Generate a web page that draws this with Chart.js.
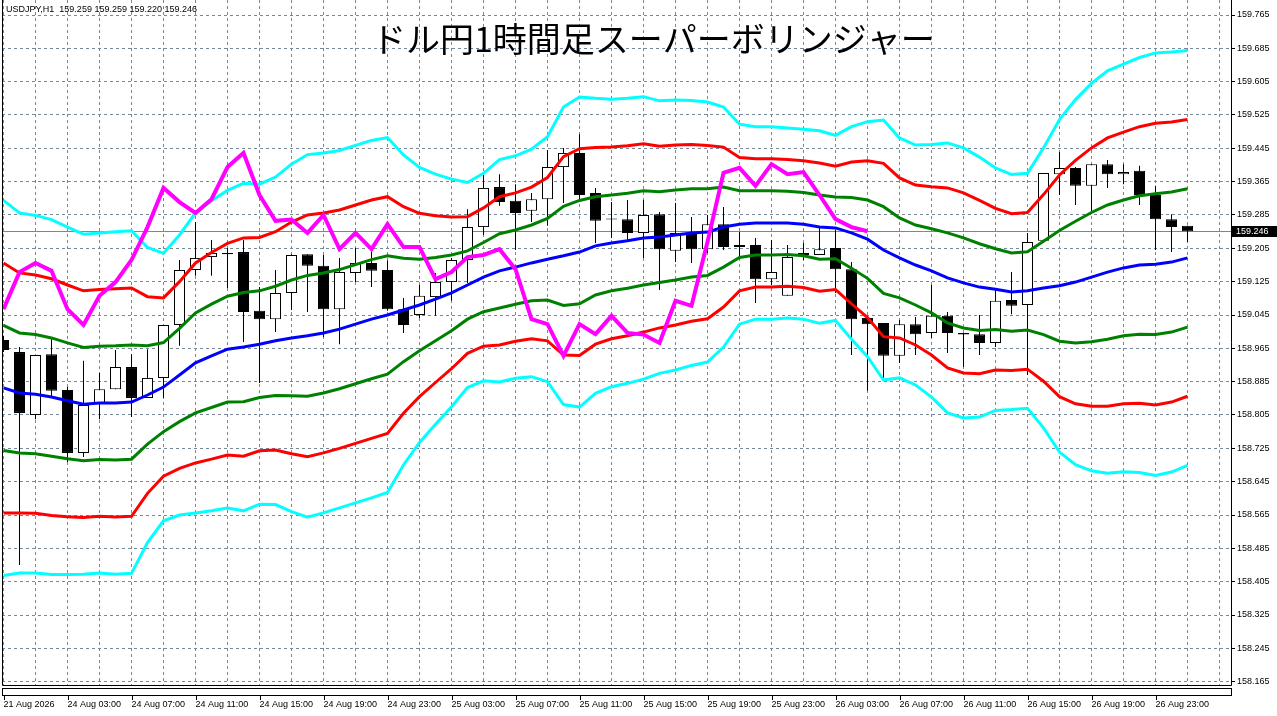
<!DOCTYPE html>
<html>
<head>
<meta charset="utf-8">
<script src="https://cdn.jsdelivr.net/npm/chart.js@4.4.1/dist/chart.umd.min.js"></script>
<style>
  html, body { margin: 0; padding: 0; background: #fff; }
  canvas { display: block; }
</style>
</head>
<body>
<canvas id="chart" width="1277" height="716"></canvas>
<script>
const symbolText = 'USDJPY,H1  159.259 159.259 159.220 159.246';
const chartTitle = 'ドル円1時間足スーパーボリンジャー';

// one label every 4 bars, first bar = 21 Aug 23:00
const timeLabels = ['21 Aug 2026', '24 Aug 03:00', '24 Aug 07:00', '24 Aug 11:00', '24 Aug 15:00',
  '24 Aug 19:00', '24 Aug 23:00', '25 Aug 03:00', '25 Aug 07:00', '25 Aug 11:00', '25 Aug 15:00',
  '25 Aug 19:00', '25 Aug 23:00', '26 Aug 03:00', '26 Aug 07:00', '26 Aug 11:00', '26 Aug 15:00',
  '26 Aug 19:00', '26 Aug 23:00'];

const priceTicks = [158.165, 158.245, 158.325, 158.405, 158.485, 158.565, 158.645, 158.725, 158.805,
  158.885, 158.965, 159.045, 159.125, 159.205, 159.285, 159.365, 159.445, 159.525, 159.605, 159.685, 159.765];

const opens = [158.985, 158.956, 158.805, 158.951, 158.865, 158.714, 158.834, 158.867, 158.920, 158.846,
  158.894, 159.021, 159.153, 159.184, 159.194, 159.196, 159.055, 159.035, 159.098, 159.191,
  159.163, 159.059, 159.146, 159.170, 159.153, 159.059, 159.045, 159.088, 159.124, 159.177,
  159.256, 159.352, 159.319, 159.295, 159.323, 159.400, 159.434, 159.338, 159.276, 159.275,
  159.242, 159.287, 159.199, 159.242, 159.203, 159.263, 159.213, 159.213, 159.131, 159.091,
  159.194, 159.189, 159.206, 159.155, 159.038, 159.026, 158.947, 159.023, 159.002, 159.043,
  159.002, 158.999, 158.978, 159.081, 159.069, 159.223, 159.383, 159.398, 159.355, 159.407,
  159.383, 159.391, 159.333, 159.275, 159.259];

const highs = [158.995, 158.968, 158.949, 158.990, 158.872, 158.935, 158.906, 158.961, 158.951, 158.963,
  159.021, 159.177, 159.268, 159.225, 159.206, 159.225, 159.112, 159.153, 159.191, 159.191,
  159.189, 159.182, 159.206, 159.201, 159.175, 159.086, 159.117, 159.146, 159.182, 159.299,
  159.386, 159.383, 159.359, 159.338, 159.441, 159.446, 159.479, 159.350, 159.316, 159.321,
  159.321, 159.292, 159.314, 159.280, 159.285, 159.304, 159.244, 159.230, 159.225, 159.213,
  159.218, 159.256, 159.249, 159.172, 159.038, 159.026, 159.033, 159.040, 159.117, 159.052,
  159.002, 159.045, 159.105, 159.148, 159.242, 159.386, 159.436, 159.400, 159.407, 159.417,
  159.407, 159.403, 159.355, 159.287, 159.259];

const lows = [158.956, 158.445, 158.795, 158.848, 158.692, 158.704, 158.795, 158.867, 158.800, 158.846,
  158.846, 158.971, 159.139, 159.139, 159.110, 158.980, 158.882, 159.004, 159.057, 159.052,
  158.992, 158.975, 159.124, 159.112, 159.055, 159.002, 159.038, 159.043, 159.079, 159.122,
  159.237, 159.307, 159.201, 159.268, 159.259, 159.314, 159.321, 159.218, 159.230, 159.225,
  159.182, 159.105, 159.172, 159.170, 159.194, 159.201, 159.184, 159.074, 159.117, 159.091,
  159.177, 159.189, 159.098, 158.949, 158.863, 158.894, 158.930, 158.949, 158.990, 158.954,
  158.920, 158.949, 158.968, 159.047, 158.901, 159.223, 159.333, 159.309, 159.290, 159.350,
  159.359, 159.309, 159.201, 159.196, 159.220];

const closes = [158.961, 158.810, 158.949, 158.863, 158.714, 158.829, 158.867, 158.920, 158.846, 158.894,
  159.021, 159.153, 159.182, 159.194, 159.191, 159.052, 159.035, 159.098, 159.189, 159.163,
  159.059, 159.148, 159.170, 159.151, 159.059, 159.021, 159.091, 159.124, 159.177, 159.256,
  159.350, 159.316, 159.290, 159.323, 159.400, 159.434, 159.333, 159.271, 159.274, 159.242,
  159.285, 159.203, 159.242, 159.203, 159.263, 159.208, 159.208, 159.131, 159.148, 159.184,
  159.189, 159.203, 159.155, 159.035, 159.023, 158.947, 159.023, 158.999, 159.043, 159.002,
  158.998, 158.978, 159.079, 159.067, 159.220, 159.386, 159.398, 159.355, 159.407, 159.383,
  159.388, 159.333, 159.275, 159.256, 159.246];

// bollinger middle line and one sigma
const midBand = [158.870, 158.858, 158.855, 158.848, 158.839, 158.831, 158.834, 158.834, 158.836, 158.853,
  158.872, 158.901, 158.930, 158.947, 158.963, 158.968, 158.975, 158.983, 158.990, 158.995,
  159.002, 159.011, 159.023, 159.035, 159.045, 159.057, 159.069, 159.083, 159.098, 159.117,
  159.136, 159.151, 159.160, 159.170, 159.179, 159.187, 159.196, 159.211, 159.218, 159.223,
  159.230, 159.232, 159.237, 159.242, 159.244, 159.256, 159.263, 159.266, 159.266, 159.266,
  159.263, 159.256, 159.254, 159.242, 159.227, 159.201, 159.182, 159.165, 159.151, 159.134,
  159.122, 159.112, 159.107, 159.100, 159.103, 159.110, 159.115, 159.124, 159.136, 159.148,
  159.158, 159.165, 159.167, 159.172, 159.182];

const bandSigma = [0.150, 0.144, 0.143, 0.142, 0.139, 0.136, 0.136, 0.137, 0.137, 0.118,
  0.107, 0.112, 0.120, 0.124, 0.127, 0.131, 0.128, 0.131, 0.139, 0.145,
  0.144, 0.143, 0.143, 0.143, 0.142, 0.124, 0.110, 0.100, 0.091, 0.082,
  0.083, 0.089, 0.089, 0.091, 0.098, 0.119, 0.124, 0.118, 0.115, 0.114,
  0.113, 0.109, 0.108, 0.106, 0.104, 0.096, 0.080, 0.077, 0.077, 0.076,
  0.076, 0.077, 0.074, 0.085, 0.094, 0.104, 0.096, 0.096, 0.101, 0.108,
  0.108, 0.104, 0.097, 0.094, 0.094, 0.112, 0.133, 0.146, 0.155, 0.161,
  0.163, 0.166, 0.169, 0.168, 0.166];

const laggingShift = 20;

const bandColors = { 3: '#00ffff', 2: '#ff0000', 1: '#008000', 0: '#0000ff' };
const FONT = '"Liberation Sans", Arial, sans-serif';

const wickData = closes.map((c, i) => ({ x: i, y: [lows[i], highs[i]] }));
const bodyData = closes.map((c, i) => ({ x: i, y: [opens[i], c] }));
const bodyFill = closes.map((c, i) => (c < opens[i] ? '#000000' : '#ffffff'));

const bandSets = [3, 2, 1, 0, -1, -2, -3].map(k => ({
  type: 'line',
  data: midBand.map((m, i) => ({ x: i, y: m + k * bandSigma[i] })),
  borderColor: bandColors[Math.abs(k)],
  borderWidth: 3,
  pointRadius: 0,
  tension: 0,
  fill: false,
  order: 1
}));

const lagging = {
  type: 'line',
  data: closes.slice(laggingShift).map((c, i) => ({ x: i, y: c })),
  borderColor: '#ff00ff',
  borderWidth: 4,
  pointRadius: 0,
  tension: 0,
  fill: false,
  order: 0
};

const mt4Frame = {
  id: 'mt4Frame',
  beforeDatasetsDraw(chart) {
    const { ctx, chartArea: a, scales: { y } } = chart;
    const py = Math.round(y.getPixelForValue(closes[closes.length - 1])) + 0.5;
    ctx.save();
    ctx.strokeStyle = '#778899';
    ctx.lineWidth = 1;
    ctx.beginPath();
    ctx.moveTo(a.left, py);
    ctx.lineTo(a.right, py);
    ctx.stroke();
    ctx.restore();
  },
  afterDraw(chart) {
    const { ctx, chartArea: a, scales: { x, y } } = chart;
    ctx.save();
    ctx.strokeStyle = '#000';
    ctx.lineWidth = 1;
    ctx.beginPath();
    ctx.moveTo(a.left + 0.5, 0);
    ctx.lineTo(a.left + 0.5, a.bottom + 0.5);
    ctx.lineTo(a.right + 0.5, a.bottom + 0.5);
    ctx.lineTo(a.right + 0.5, 0);
    ctx.stroke();
    // empty sub-window strip under the main chart
    ctx.strokeRect(a.left + 0.5, a.bottom + 3.5, a.right - a.left, 7);
    ctx.beginPath();
    timeLabels.forEach((t, k) => {
      const px = Math.round(x.getPixelForValue(k * 4)) + 0.5;
      ctx.moveTo(px, a.bottom + 10);
      ctx.lineTo(px, a.bottom + 15);
    });
    ctx.stroke();

    // current price marker
    const last = closes[closes.length - 1];
    const py = Math.round(y.getPixelForValue(last));
    ctx.fillStyle = '#000';
    ctx.fillRect(a.right + 1, py - 5, chart.width - a.right - 1, 11);
    ctx.fillStyle = '#fff';
    ctx.font = '9px ' + FONT;
    ctx.textBaseline = 'middle';
    ctx.textAlign = 'left';
    ctx.fillText(last.toFixed(3), a.right + 5, py + 0.5);

    ctx.fillStyle = '#000';
    ctx.textBaseline = 'alphabetic';
    ctx.fillText(symbolText, 6, 12);

    ctx.font = '34px "Noto Sans CJK JP"';
    ctx.fillText(chartTitle, 372, 52);
    ctx.restore();
  }
};

new Chart(document.getElementById('chart'), {
  type: 'bar',
  data: {
    datasets: [
      lagging,
      ...bandSets,
      {
        data: bodyData,
        backgroundColor: bodyFill,
        borderColor: '#000',
        borderWidth: 1,
        borderSkipped: false,
        barThickness: 11,
        inflateAmount: 0,
        minBarLength: 1,
        grouped: false,
        order: 2
      },
      {
        data: wickData,
        backgroundColor: '#000',
        borderWidth: 0,
        barThickness: 1,
        inflateAmount: 0,
        grouped: false,
        order: 3
      }
    ]
  },
  options: {
    responsive: false,
    devicePixelRatio: 1,
    animation: false,
    events: [],
    layout: { padding: { left: 2, top: 0, right: 0, bottom: 0 } },
    plugins: {
      legend: { display: false },
      tooltip: { enabled: false },
      title: { display: false }
    },
    scales: {
      x: {
        type: 'linear',
        offset: false,
        min: -0.09375,
        max: 76.71875,
        afterFit: s => { s.height = 31; s.paddingLeft = 0; s.paddingRight = 0; },
        afterBuildTicks: s => {
          const t = [];
          for (let v = 0; v <= 76; v += 2) t.push({ value: v });
          s.ticks = t;
        },
        ticks: {
          autoSkip: false,
          maxRotation: 0,
          align: 'start',
          padding: 14,
          color: '#000',
          font: { family: FONT, size: 9 },
          callback: v => (v % 4 === 0 && timeLabels[v / 4]) ? timeLabels[v / 4] : ''
        },
        grid: { color: '#778899', lineWidth: 1, drawTicks: false, offset: false },
        border: { display: false, dash: [3, 3] }
      },
      y: {
        position: 'right',
        min: 158.157,
        max: 159.801,
        afterFit: s => { s.width = 46; s.paddingTop = 0; s.paddingBottom = 0; },
        afterBuildTicks: s => { s.ticks = priceTicks.map(v => ({ value: v })); },
        ticks: {
          padding: 2,
          color: '#000',
          font: { family: FONT, size: 9 },
          callback: v => v.toFixed(3)
        },
        grid: { color: '#778899', lineWidth: 1, tickLength: 4, tickColor: '#000', tickBorderDash: [] },
        border: { display: false, dash: [3, 3] }
      }
    }
  },
  plugins: [mt4Frame]
});
</script>
</body>
</html>
